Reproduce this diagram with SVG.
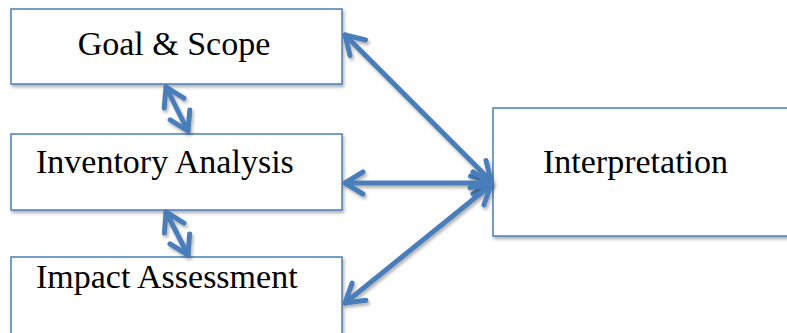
<svg xmlns="http://www.w3.org/2000/svg" width="787" height="333" viewBox="0 0 787 333">
  <style>
    .box { fill: #ffffff; stroke: #4a7ebb; stroke-width: 1.5; filter: url(#shadow); }
    .label { font-family: "Liberation Serif", "Times New Roman", serif; font-size: 34px; fill: #000000; }
    .link { stroke: #4a7ebb; stroke-width: 5; fill: none; stroke-linecap: round; marker-start: url(#chev); marker-end: url(#chev); filter: url(#shadow); }
  </style>
  <defs>
    <!-- user-space region so zero-height (horizontal) lines still render -->
    <filter id="shadow" filterUnits="userSpaceOnUse" x="0" y="0" width="787" height="333">
      <feDropShadow dx="1.5" dy="2.5" stdDeviation="1.5" flood-color="#000000" flood-opacity="0.3"/>
    </filter>
    <marker id="chev" viewBox="0 0 28 28" refX="23" refY="14" markerWidth="28" markerHeight="28" markerUnits="userSpaceOnUse" orient="auto-start-reverse">
      <path d="M5,3 L23,14 L5,25" fill="none" stroke="#4a7ebb" stroke-width="5" stroke-linecap="round" stroke-linejoin="round"/>
    </marker>
  </defs>

  <g id="goal-scope">
    <rect class="box" x="11" y="9" width="331" height="75"/>
    <text class="label" x="174" y="55" text-anchor="middle">Goal &amp; Scope</text>
  </g>
  <g id="inventory-analysis">
    <rect class="box" x="11" y="134" width="331" height="76"/>
    <text class="label" x="36" y="173">Inventory Analysis</text>
  </g>
  <g id="impact-assessment">
    <rect class="box" x="11" y="257" width="331" height="90"/>
    <text class="label" x="36" y="288">Impact Assessment</text>
  </g>
  <g id="interpretation">
    <rect class="box" x="493" y="108" width="310" height="128"/>
    <text class="label" x="543" y="173">Interpretation</text>
  </g>

  <g id="connectors">
    <line class="link" x1="345" y1="35" x2="491" y2="181"/>
    <line class="link" x1="345" y1="183" x2="491" y2="183"/>
    <line class="link" x1="345" y1="303" x2="491" y2="185"/>
    <line class="link" x1="166" y1="87" x2="188" y2="131"/>
    <line class="link" x1="166" y1="212" x2="188" y2="255"/>
  </g>
</svg>
